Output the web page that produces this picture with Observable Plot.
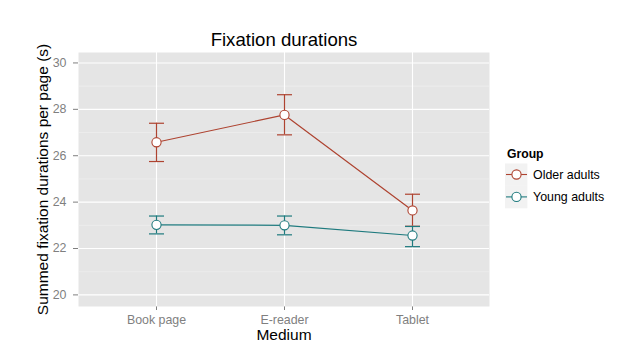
<!DOCTYPE html>
<html>
<head>
<meta charset="utf-8">
<script src="https://cdn.jsdelivr.net/npm/d3@7"></script>
<script src="https://cdn.jsdelivr.net/npm/@observablehq/plot@0.6"></script>
<style>
  html, body { margin: 0; padding: 0; background: white; }
  #wrap { position: relative; width: 640px; height: 356px; font-family: "Liberation Sans", Arial, sans-serif; }
  #legend { position: absolute; left: 0; top: 0; }
</style>
</head>
<body>
<div id="wrap"></div>
<script>
// ---- data ----
const media = ["Book page", "E-reader", "Tablet"];
const groups = ["Older adults", "Young adults"];
const colors = ["#AE4330", "#1E7A7E"];
const olderMean = [26.58, 27.76, 23.64];
const olderLo   = [25.75, 26.90, 22.96];
const olderHi   = [27.40, 28.63, 24.34];
const youngMean = [23.02, 23.00, 22.56];
const youngLo   = [22.63, 22.59, 22.08];
const youngHi   = [23.40, 23.40, 22.95];
const yTicks = [20, 22, 24, 26, 28, 30];
const yMinor = [21, 23, 25, 27, 29];
const titleText = "Fixation durations";
const xTitle = "Medium";
const yTitle = "Summed fixation durations per page (s)";
const legendTitle = "Group";

const rows = [];
media.forEach((m, i) => {
  rows.push({medium: m, group: groups[0], mean: olderMean[i], lo: olderLo[i], hi: olderHi[i]});
  rows.push({medium: m, group: groups[1], mean: youngMean[i], lo: youngLo[i], hi: youngHi[i]});
});

const font = "'Liberation Sans', Arial, sans-serif";

// horizontal error-bar cap as a custom symbol
const capSymbol = {
  draw(context) { context.moveTo(-7.5, 0); context.lineTo(7.5, 0); }
};

const plot = Plot.plot({
  width: 640,
  height: 356,
  marginLeft: 78,
  marginRight: 151,
  marginTop: 52,
  marginBottom: 50,
  style: {fontFamily: font, fontSize: "12.4px", color: "#7F7F7F", background: "white"},
  x: {type: "point", domain: media, padding: 0.6, label: null, tickSize: 4, tickPadding: 5},
  y: {domain: [19.5, 30.45], ticks: yTicks, label: null, tickSize: 5, tickPadding: 7},
  color: {domain: groups, range: colors},
  marks: [
    Plot.frame({fill: "#E5E5E5", stroke: null}),
    Plot.ruleY(yMinor, {stroke: "#F2F2F2", strokeWidth: 0.6}),
    Plot.ruleY(yTicks, {stroke: "white", strokeWidth: 1.1}),
    Plot.ruleX(media, {stroke: "white", strokeWidth: 1.1}),
    Plot.ruleX(rows, {x: "medium", y1: "lo", y2: "hi", stroke: "group", strokeWidth: 1.2}),
    Plot.dot(rows, {x: "medium", y: "lo", symbol: capSymbol, stroke: "group", fill: "none", strokeWidth: 1.2}),
    Plot.dot(rows, {x: "medium", y: "hi", symbol: capSymbol, stroke: "group", fill: "none", strokeWidth: 1.2}),
    Plot.line(rows, {x: "medium", y: "mean", z: "group", stroke: "group", strokeWidth: 1.2}),
    Plot.dot(rows, {x: "medium", y: "mean", stroke: "group", fill: "white", r: 4.6, strokeWidth: 1.1}),
    Plot.text([titleText], {frameAnchor: "top", dy: -12, textAnchor: "middle", lineAnchor: "middle", fontSize: 18.6, fill: "black"}),
    Plot.text([xTitle], {frameAnchor: "bottom", dy: 29, textAnchor: "middle", lineAnchor: "middle", fontSize: 15.5, fill: "black"}),
    Plot.text([yTitle], {frameAnchor: "left", dx: -35, textAnchor: "middle", lineAnchor: "middle", rotate: -90, fontSize: 15.5, fill: "black"})
  ]
});

const wrap = document.getElementById("wrap");
wrap.appendChild(plot);

// ---- legend ----
const svg = d3.select(wrap).append("svg")
  .attr("id", "legend")
  .attr("width", 640).attr("height", 356)
  .style("pointer-events", "none");
svg.append("text")
  .attr("x", 507).attr("y", 157.5)
  .attr("font-family", font).attr("font-size", 12.2).attr("font-weight", "bold")
  .attr("fill", "black").text(legendTitle);
groups.forEach((g, i) => {
  const cy = 174.5 + i * 22.4;
  const item = svg.append("g");
  item.append("rect").attr("x", 505).attr("y", cy - 11).attr("width", 22.4).attr("height", 22.4).attr("fill", "#F2F2F2");
  item.append("line").attr("x1", 506).attr("x2", 527).attr("y1", cy).attr("y2", cy)
    .attr("stroke", colors[i]).attr("stroke-width", 1.1);
  item.append("circle").attr("cx", 516.5).attr("cy", cy).attr("r", 4.6)
    .attr("fill", "white").attr("stroke", colors[i]).attr("stroke-width", 1.1);
  item.append("text").attr("x", 533).attr("y", cy + 4.4)
    .attr("font-family", font).attr("font-size", 12.4).attr("fill", "black").text(g);
});
</script>
</body>
</html>
